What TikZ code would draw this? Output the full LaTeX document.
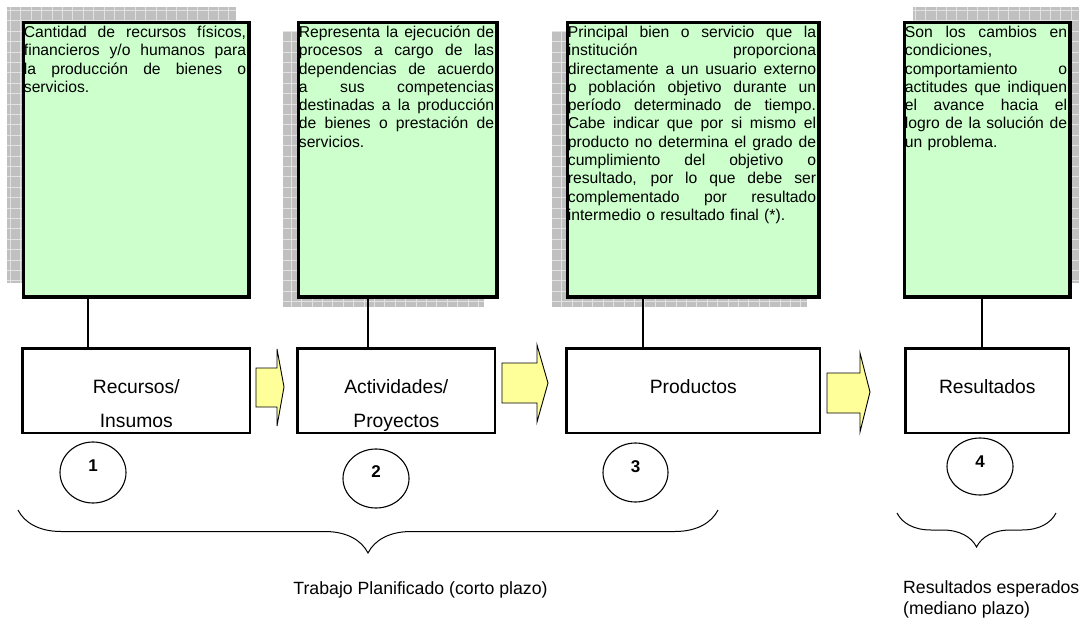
\documentclass[tikz,border=0pt]{standalone}
\usepackage{fontspec}
\setmainfont{Liberation Sans}
\usetikzlibrary{calc,decorations.pathreplacing,shapes.geometric}

\definecolor{notegreen}{HTML}{CCFFCC}
\definecolor{arrowyellow}{HTML}{FFFF99}
\definecolor{shadowgray}{HTML}{C0C0C0}
\definecolor{shadowline}{HTML}{E2E2E2}

\newlength{\notew}
\newcommand{\jline}[1]{\strut\hbox to\notew{\spaceskip=0.278em plus 1fil\relax #1}\\}

\begin{document}
\begin{tikzpicture}[x=1pt,y=-1pt,
  notebox/.style={draw,line width=3.4pt,fill=notegreen,anchor=north west,inner sep=0pt},
  notetext/.style={anchor=north west,inner xsep=0.3pt,inner ysep=2pt,align=left,
    font=\fontsize{15.7}{18.3}\selectfont},
  shadowbox/.style={fill=shadowgray},
  shadowgrid/.style={draw=shadowline,line width=0.8pt},
  stagebox/.style={draw,line width=2.6pt,fill=white,anchor=north west,inner sep=0pt},
  stagetext/.style={anchor=base,inner sep=0pt,font=\fontsize{19.3}{23}\selectfont},
  flowarrow/.style={draw,line width=0.9pt,fill=arrowyellow,line join=miter},
  ring/.style={draw,ellipse,line width=1.1pt,inner sep=0pt},
  ringnum/.style={inner sep=0pt,font=\fontsize{17}{20}\selectfont\bfseries},
  link/.style={line width=1.1pt},
  curly/.style={decorate,decoration={brace,mirror,amplitude=#1},line width=1pt},
  foottext/.style={inner sep=0pt,font=\fontsize{17.7}{20.5}\selectfont}]

\useasboundingbox (0,0) rectangle (1086,620);

%SCHATTEN (hinter den gruenen Kaesten)
\fill[shadowbox] (7,7) rectangle (236,283);
\draw[shadowgrid,step=10.4pt] (7,7) grid (236,283);
\fill[shadowbox] (283,31) rectangle (484,307);
\draw[shadowgrid,step=10.4pt] (283,31) grid (484,307);
\fill[shadowbox] (552,31) rectangle (807,307);
\draw[shadowgrid,step=10.4pt] (552,31) grid (807,307);
\fill[shadowbox] (913,7) rectangle (1079,283);
\draw[shadowgrid,step=10.4pt] (913,7) grid (1079,283);

%GRUENER KASTEN NR. 1 (von links)
\node[notebox,minimum width=225.6,minimum height=274.6] (g1) at (21.7,20.7) {};
\node[notetext,text width=222.2] (n1) at ($(g1.north west)+(1.7,1.7)$) {%
\setlength{\notew}{222.2pt}%
\jline{Cantidad de recursos físicos,}
\jline{financieros y/o humanos para}
\jline{la producción de bienes o}
\strut servicios.};

%GRUENER KASTEN NR. 2 (von links)
\node[notebox,minimum width=198.6,minimum height=274.6] (g2) at (296.7,20.7) {};
\node[notetext,text width=195.2] (n2) at ($(g2.north west)+(1.7,1.7)$) {%
\setlength{\notew}{195.2pt}%
\jline{Representa la ejecución de}
\jline{procesos a cargo de las}
\jline{dependencias de acuerdo}
\jline{a sus competencias}
\jline{destinadas a la producción}
\jline{de bienes o prestación de}
\strut servicios.};

%GRUENER KASTEN NR. 3 (von links)
\node[notebox,minimum width=251.6,minimum height=274.6] (g3) at (565.7,20.7) {};
\node[notetext,text width=248.2] (n3) at ($(g3.north west)+(1.7,1.7)$) {%
\setlength{\notew}{248.2pt}%
\jline{Principal bien o servicio que la}
\jline{institución proporciona}
\jline{directamente a un usuario externo}
\jline{o población objetivo durante un}
\jline{período determinado de tiempo.}
\jline{Cabe indicar que por si mismo el}
\jline{producto no determina el grado de}
\jline{cumplimiento del objetivo o}
\jline{resultado, por lo que debe ser}
\jline{complementado por resultado}
\strut intermedio o resultado final (*).};

%GRUENER KASTEN NR. 4 (von links)
\node[notebox,minimum width=165.6,minimum height=274.6] (g4) at (902.7,20.7) {};
\node[notetext,text width=162.2] (n4) at ($(g4.north west)+(1.7,1.7)$) {%
\setlength{\notew}{162.2pt}%
\jline{Son los cambios en}
\strut condiciones,\\
\jline{comportamiento o}
\jline{actitudes que indiquen}
\jline{el avance hacia el}
\jline{logro de la solución de}
\strut un problema.};

%WEISSE KAESTEN (Stufen)
\node[stagebox,minimum width=227.4,minimum height=84.4] (w1) at (21.3,347.3) {};
\node[stagebox,minimum width=197.4,minimum height=84.4] (w2) at (296.3,347.3) {};
\node[stagebox,minimum width=253.4,minimum height=84.4] (w3) at (565.3,347.3) {};
\node[stagebox,minimum width=163.4,minimum height=84.4] (w4) at (904.3,347.3) {};

\node[stagetext] (s1a) at ($(w1.center)+(0,3)$) {Recursos/};
\node[stagetext] (s1b) at ($(w1.center)+(0,36.5)$) {Insumos};
\node[stagetext] (s2a) at ($(w2.center)+(0,3)$) {Actividades/};
\node[stagetext] (s2b) at ($(w2.center)+(0,36.5)$) {Proyectos};
\node[stagetext] (s3) at ($(w3.center)+(0,3)$) {Productos};
\node[stagetext] (s4) at ($(w4.center)+(0,3)$) {Resultados};

%VERBINDUNGEN (gruen nach weiss)
\coordinate (k1) at (88,0);
\coordinate (k2) at (368,0);
\coordinate (k3) at (643,0);
\coordinate (k4) at (982,0);
\draw[link] (g1.south -| k1) -- (w1.north -| k1);
\draw[link] (g2.south -| k2) -- (w2.north -| k2);
\draw[link] (g3.south -| k3) -- (w3.north -| k3);
\draw[link] (g4.south -| k4) -- (w4.north -| k4);

%GELBE PFEILE
\draw[flowarrow] (256,368) -- (277,368) -- (277,349) -- (284,387) -- (277,426) -- (277,407) -- (256,407) -- cycle;
\draw[flowarrow] (502,363) -- (537,363) -- (537,345) -- (548,383) -- (537,422) -- (537,403) -- (502,403) -- cycle;
\draw[flowarrow] (827,373) -- (860,373) -- (860,353) -- (870,392) -- (860,432) -- (860,413) -- (827,413) -- cycle;

%KREISE MIT NUMMERN
\node[ring,minimum width=66,minimum height=61] (c1) at (93,472.5) {};
\node[ring,minimum width=66,minimum height=59] (c2) at (376,478.5) {};
\node[ring,minimum width=65,minimum height=59] (c3) at (635.5,472.5) {};
\node[ring,minimum width=66,minimum height=57] (c4) at (980,466.5) {};
\node[ringnum] (m1) at ($(c1.center)+(0,-7)$) {1};
\node[ringnum] (m2) at ($(c2.center)+(0,-6.5)$) {2};
\node[ringnum] (m3) at ($(c3.center)+(0,-5.5)$) {3};
\node[ringnum] (m4) at ($(c4.center)+(0,-4.5)$) {4};

%KLAMMERN UND UNTERSCHRIFTEN
\coordinate (b1s) at (18,510);
\coordinate (b1e) at (718,510);
\coordinate (b2s) at (897,513);
\coordinate (b2e) at (1056,513);
\draw[curly=43pt] (b1s) -- (b1e);
\draw[curly=34pt] (b2s) -- (b2e);

\node[foottext,anchor=base] (f1) at (420.5,594) {Trabajo Planificado (corto plazo)};
\node[foottext,anchor=base west] (f2) at (903,593) {Resultados esperados};
\node[foottext,anchor=base west] (f3) at ($(f2.base west)+(0,21)$) {(mediano plazo)};

\end{tikzpicture}
\end{document}
